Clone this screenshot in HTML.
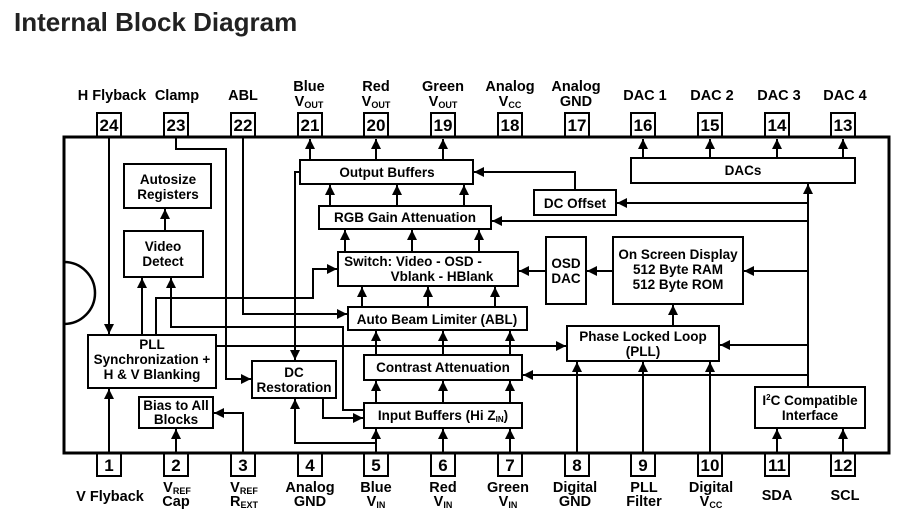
<!DOCTYPE html>
<html><head><meta charset="utf-8"><style>
html,body{margin:0;padding:0;background:#fff;}
svg{display:block;}
text{font-family:"Liberation Sans",Arial,sans-serif;font-weight:bold;fill:#000;}
</style></head><body>
<svg width="917" height="520" viewBox="0 0 917 520" xmlns="http://www.w3.org/2000/svg">
<defs>
<marker id="a" markerUnits="userSpaceOnUse" markerWidth="12" markerHeight="12" refX="10" refY="5" orient="auto">
<path d="M0,0 L10,5 L0,10 Z" fill="#000"/>
</marker>
</defs>
<text x="14" y="31" style="font-size:26px;fill:#222">Internal Block Diagram</text>

<g stroke="#000" stroke-width="2" fill="none">
<rect x="64" y="137" width="825" height="316" stroke-width="3"/>
<path d="M64,262 A31,31 0 0 1 64,324" stroke-width="2.5"/>
<rect x="97" y="113" width="24" height="24"/><rect x="164" y="113" width="24" height="24"/><rect x="231" y="113" width="24" height="24"/>
<rect x="298" y="113" width="24" height="24"/><rect x="364" y="113" width="24" height="24"/><rect x="431" y="113" width="24" height="24"/>
<rect x="498" y="113" width="24" height="24"/><rect x="565" y="113" width="24" height="24"/><rect x="631" y="113" width="24" height="24"/>
<rect x="698" y="113" width="24" height="24"/><rect x="765" y="113" width="24" height="24"/><rect x="831" y="113" width="24" height="24"/>
<rect x="97" y="453" width="24" height="23"/><rect x="164" y="453" width="24" height="23"/><rect x="231" y="453" width="24" height="23"/>
<rect x="298" y="453" width="24" height="23"/><rect x="364" y="453" width="24" height="23"/><rect x="431" y="453" width="24" height="23"/>
<rect x="498" y="453" width="24" height="23"/><rect x="565" y="453" width="24" height="23"/><rect x="631" y="453" width="24" height="23"/>
<rect x="698" y="453" width="24" height="23"/><rect x="765" y="453" width="24" height="23"/><rect x="831" y="453" width="24" height="23"/>

<rect x="124" y="164" width="87" height="44"/>
<rect x="124" y="231" width="79" height="46"/>
<rect x="300" y="160" width="173" height="24"/>
<rect x="319" y="206" width="172" height="23"/>
<rect x="338" y="252" width="180" height="34"/>
<rect x="348" y="307" width="179" height="23"/>
<rect x="88" y="335" width="128" height="53"/>
<rect x="252" y="361" width="84" height="37"/>
<rect x="364" y="355" width="158" height="25"/>
<rect x="364" y="403" width="158" height="25"/>
<rect x="139" y="397" width="74" height="31"/>
<rect x="631" y="158" width="224" height="25"/>
<rect x="534" y="190" width="82" height="25"/>
<rect x="546" y="237" width="40" height="67"/>
<rect x="613" y="237" width="130" height="67"/>
<rect x="567" y="326" width="152" height="35"/>
<rect x="755" y="387" width="110" height="41"/>

<path d="M310,160V139" marker-end="url(#a)"/><path d="M376,160V139" marker-end="url(#a)"/><path d="M443,160V139" marker-end="url(#a)"/>
<path d="M643,158V139" marker-end="url(#a)"/><path d="M710,158V139" marker-end="url(#a)"/><path d="M777,158V139" marker-end="url(#a)"/><path d="M843,158V139" marker-end="url(#a)"/>
<path d="M330,206V185" marker-end="url(#a)"/><path d="M397,206V185" marker-end="url(#a)"/><path d="M464,206V185" marker-end="url(#a)"/>
<path d="M345,252V230" marker-end="url(#a)"/><path d="M412,252V230" marker-end="url(#a)"/><path d="M479,252V230" marker-end="url(#a)"/>
<path d="M362,307V287" marker-end="url(#a)"/><path d="M428,307V287" marker-end="url(#a)"/><path d="M495,307V287" marker-end="url(#a)"/>
<path d="M376,355V331" marker-end="url(#a)"/><path d="M443,355V331" marker-end="url(#a)"/><path d="M510,355V331" marker-end="url(#a)"/>
<path d="M376,403V381" marker-end="url(#a)"/><path d="M443,403V381" marker-end="url(#a)"/><path d="M510,403V381" marker-end="url(#a)"/>
<path d="M376,452V429" marker-end="url(#a)"/><path d="M443,452V429" marker-end="url(#a)"/><path d="M510,452V429" marker-end="url(#a)"/>
<path d="M376,443H295V399" marker-end="url(#a)"/>
<path d="M323,398V418H363" marker-end="url(#a)"/>
<path d="M808,387V184" marker-end="url(#a)"/>
<path d="M808,203H617" marker-end="url(#a)"/>
<path d="M808,221H492" marker-end="url(#a)"/>
<path d="M808,271H744" marker-end="url(#a)"/>
<path d="M808,345H720" marker-end="url(#a)"/>
<path d="M808,375H523" marker-end="url(#a)"/>
<path d="M575,190V172H474" marker-end="url(#a)"/>
<path d="M613,271H587" marker-end="url(#a)"/>
<path d="M546,271H519" marker-end="url(#a)"/>
<path d="M673,326V305" marker-end="url(#a)"/>
<path d="M577,452V362" marker-end="url(#a)"/><path d="M643,452V362" marker-end="url(#a)"/><path d="M710,452V362" marker-end="url(#a)"/>
<path d="M777,452V429" marker-end="url(#a)"/><path d="M843,452V429" marker-end="url(#a)"/>
<path d="M109,137V334" marker-end="url(#a)"/>
<path d="M109,452V389" marker-end="url(#a)"/>
<path d="M176,452V429" marker-end="url(#a)"/>
<path d="M243,452V413H214" marker-end="url(#a)"/>
<path d="M176,137V149H226V379H251" marker-end="url(#a)"/>
<path d="M243,137V314H347" marker-end="url(#a)"/>
<path d="M300,172H295V360" marker-end="url(#a)"/>
<path d="M165,231V209" marker-end="url(#a)"/>
<path d="M142,335V278" marker-end="url(#a)"/>
<path d="M364,410H343V327H171V278" marker-end="url(#a)"/>
<path d="M156,335V298H313V269H337" marker-end="url(#a)"/>
<path d="M216,346H566" marker-end="url(#a)"/>
</g>

<g style="font-size:14.5px" text-anchor="middle">
<text x="112" y="100">H Flyback</text><text x="177" y="100">Clamp</text><text x="243" y="100">ABL</text>
<text x="309" y="91">Blue</text><text x="309" y="106">V<tspan style="font-size:9px" dy="2">OUT</tspan></text>
<text x="376" y="91">Red</text><text x="376" y="106">V<tspan style="font-size:9px" dy="2">OUT</tspan></text>
<text x="443" y="91">Green</text><text x="443" y="106">V<tspan style="font-size:9px" dy="2">OUT</tspan></text>
<text x="510" y="91">Analog</text><text x="510" y="106">V<tspan style="font-size:9px" dy="2">CC</tspan></text>
<text x="576" y="91">Analog</text><text x="576" y="106">GND</text>
<text x="645" y="100">DAC 1</text><text x="712" y="100">DAC 2</text><text x="779" y="100">DAC 3</text><text x="845" y="100">DAC 4</text>
<g style="font-size:17px">
<text x="109" y="131">24</text><text x="176" y="131">23</text><text x="243" y="131">22</text><text x="310" y="131">21</text><text x="376" y="131">20</text><text x="443" y="131">19</text>
<text x="510" y="131">18</text><text x="577" y="131">17</text><text x="643" y="131">16</text><text x="710" y="131">15</text><text x="777" y="131">14</text><text x="843" y="131">13</text>
<text x="109" y="471">1</text><text x="176" y="471">2</text><text x="243" y="471">3</text><text x="310" y="471">4</text><text x="376" y="471">5</text><text x="443" y="471">6</text>
<text x="510" y="471">7</text><text x="577" y="471">8</text><text x="643" y="471">9</text><text x="710" y="471">10</text><text x="777" y="471">11</text><text x="843" y="471">12</text>
</g>
<text x="110" y="501">V Flyback</text>
<text x="177" y="492">V<tspan style="font-size:9px" dy="2">REF</tspan></text><text x="176" y="506">Cap</text>
<text x="244" y="492">V<tspan style="font-size:9px" dy="2">REF</tspan></text><text x="244" y="506">R<tspan style="font-size:9px" dy="2">EXT</tspan></text>
<text x="310" y="492">Analog</text><text x="310" y="506">GND</text>
<text x="376" y="492">Blue</text><text x="376" y="506">V<tspan style="font-size:9px" dy="2">IN</tspan></text>
<text x="443" y="492">Red</text><text x="443" y="506">V<tspan style="font-size:9px" dy="2">IN</tspan></text>
<text x="508" y="492">Green</text><text x="508" y="506">V<tspan style="font-size:9px" dy="2">IN</tspan></text>
<text x="575" y="492">Digital</text><text x="575" y="506">GND</text>
<text x="644" y="492">PLL</text><text x="644" y="506">Filter</text>
<text x="711" y="492">Digital</text><text x="711" y="506">V<tspan style="font-size:9px" dy="2">CC</tspan></text>
<text x="777" y="500">SDA</text><text x="845" y="500">SCL</text>
</g>
<g style="font-size:13.5px" text-anchor="middle">
<text x="168" y="184">Autosize</text><text x="168" y="199">Registers</text>
<text x="163" y="251">Video</text><text x="163" y="266">Detect</text>
<text x="387" y="177">Output Buffers</text>
<text x="405" y="222">RGB Gain Attenuation</text>
<text x="413" y="266">Switch:  Video - OSD -</text><text x="442" y="281">Vblank - HBlank</text>
<text x="437" y="324">Auto Beam Limiter (ABL)</text>
<text x="152" y="349">PLL</text><text x="152" y="364">Synchronization +</text><text x="152" y="379">H &amp; V Blanking</text>
<text x="294" y="377">DC</text><text x="294" y="392">Restoration</text>
<text x="443" y="372">Contrast Attenuation</text>
<text x="443" y="420">Input Buffers (Hi Z<tspan style="font-size:8px" dy="2">IN</tspan><tspan dy="-2">)</tspan></text>
<text x="176" y="410">Bias to All</text><text x="176" y="424">Blocks</text>
<text x="743" y="175">DACs</text>
<text x="575" y="208">DC Offset</text>
<text x="566" y="268">OSD</text><text x="566" y="283">DAC</text>
<text x="678" y="259">On Screen Display</text><text x="678" y="274">512 Byte RAM</text><text x="678" y="289">512 Byte ROM</text>
<text x="643" y="341">Phase Locked Loop</text><text x="643" y="356">(PLL)</text>
<text x="810" y="405">I<tspan style="font-size:8px" dy="-5">2</tspan><tspan dy="5">C Compatible</tspan></text><text x="810" y="420">Interface</text>
</g>
</svg>
</body></html>
